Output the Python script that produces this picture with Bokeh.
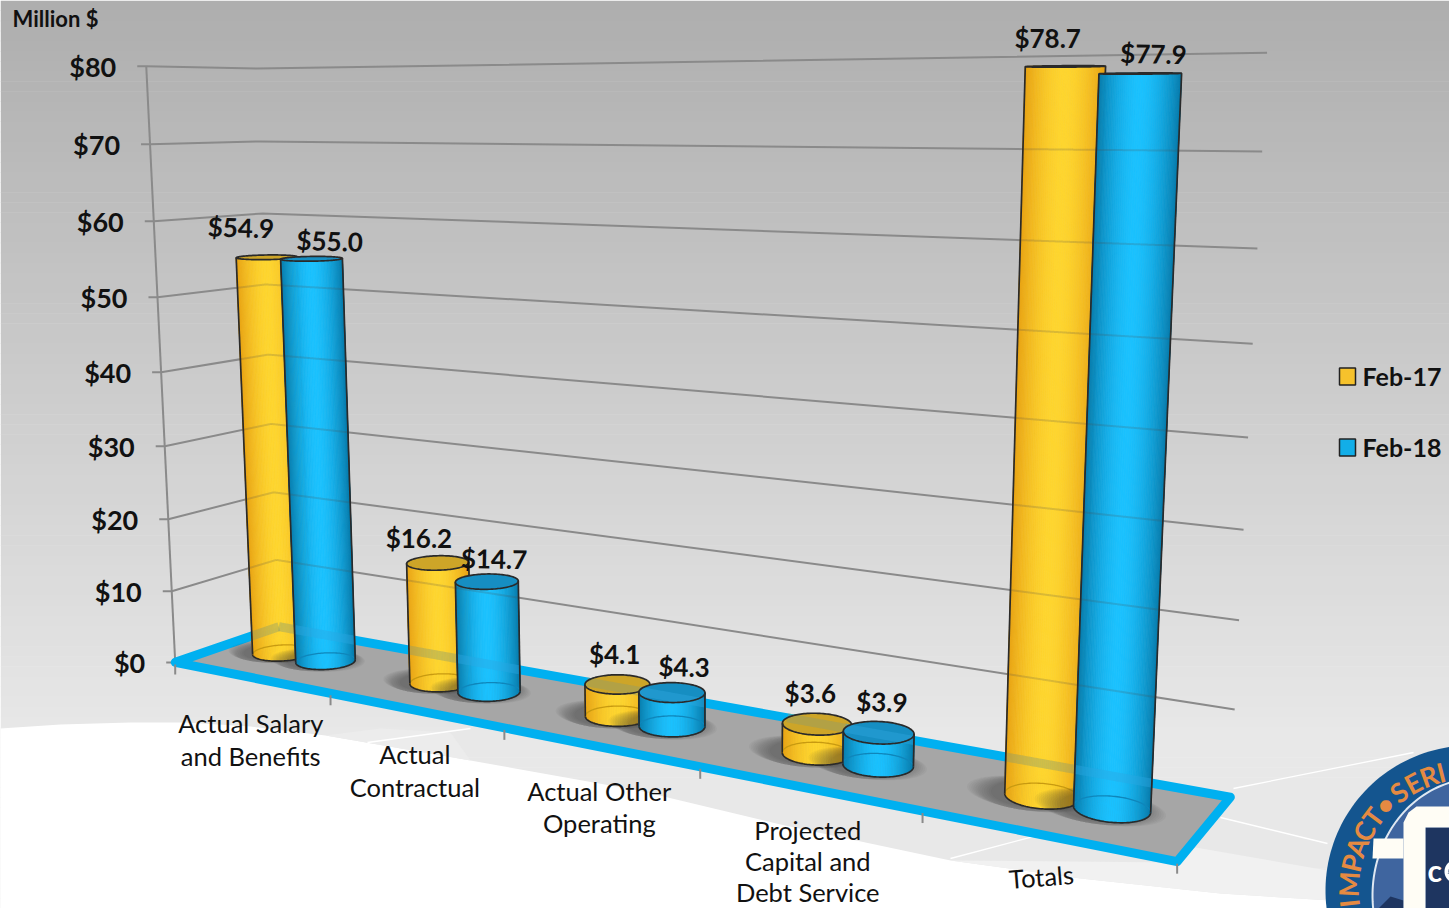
import numpy as np
from bokeh.plotting import figure
from bokeh.embed import file_html
from bokeh.resources import INLINE
from bokeh.core.properties import value

categories = [["Actual Salary", "and Benefits"], ["Actual", "Contractual"],
              ["Actual Other", "Operating"], ["Projected", "Capital and", "Debt Service"], ["Totals"]]
feb17 = [54.9, 16.2, 4.1, 3.6, 78.7]
feb18 = [55.0, 14.7, 4.3, 3.9, 77.9]
feb17_labels = ["$54.9", "$16.2", "$4.1", "$3.6", "$78.7"]
feb18_labels = ["$55.0", "$14.7", "$4.3", "$3.9", "$77.9"]
y_ticks = [0, 10, 20, 30, 40, 50, 60, 70, 80]
y_tick_labels = ["$0", "$10", "$20", "$30", "$40", "$50", "$60", "$70", "$80"]
series_names = ["Feb-17", "Feb-18"]

p = figure(width=1449, height=908, x_range=(0, 1449), y_range=(908, 0),
           output_backend="svg", toolbar_location=None, min_border=0,
           outline_line_color=None)
p.axis.visible = False
p.grid.visible = False
p.background_fill_color = "white"
p.border_fill_color = "white"

# ---- perspective camera calibrated on the frame of the 3-D box
calib = [(0, 0, 0, 175, 660), (1, 0, 0, 1175, 858), (0, 1, 0, 278, 627), (1, 1, 0, 1230, 795),
         (0, 1, 80, 256, 70), (.2, 0, 0, 331, 693), (.4, 0, 0, 505, 729), (.6, 0, 0, 700, 771), (.8, 0, 0, 921, 814),
         (0, 0, 80, 146, 66), (0, 0, 70, 150, 144), (0, 0, 60, 153, 220), (0, 0, 50, 157, 296), (0, 0, 40, 160, 372),
         (0, 0, 30, 164, 445), (0, 0, 20, 168, 517), (0, 0, 10, 171, 590),
         (1, 1, 80, 1267, 52), (1, 1, 70, 1262, 151), (1, 1, 60, 1257, 248), (1, 1, 50, 1252, 343),
         (1, 1, 40, 1248, 437), (1, 1, 30, 1243, 529), (1, 1, 20, 1238, 620), (1, 1, 10, 1235, 708)]
A = []
b = []
for X, Z, V, u, v_ in calib:
    V = V / 80.0
    A.append([X, Z, V, 1, 0, 0, 0, 0, -u * X, -u * Z, -u * V]); b.append(u)
    A.append([0, 0, 0, 0, X, Z, V, 1, -v_ * X, -v_ * Z, -v_ * V]); b.append(v_)
sol = np.linalg.lstsq(np.array(A, float), np.array(b, float), rcond=None)[0]
M = np.append(sol, 1).reshape(3, 4)


def proj(x, z, val):
    x, z, val = np.broadcast_arrays(np.asarray(x, float), np.asarray(z, float), np.asarray(val, float) / 80.0)
    h = np.stack([x, z, val, np.ones_like(x)])
    r = M @ h.reshape(4, -1)
    return (r[0] / r[2]).reshape(x.shape), (r[1] / r[2]).reshape(x.shape)


# ---- background
bands = np.linspace(0, 908, 91)
cols = []
for yy in (bands[:-1] + bands[1:]) / 2:
    t = min(yy / 730.0, 1.0)
    g = int(174 + (232 - 174) * t)
    cols.append("#%02x%02x%02x" % (g, g, g))
p.quad(left=0, right=1449, top=bands[:-1], bottom=bands[1:] + 0.5, fill_color=cols, line_color=None)

sw_x = [0, 60, 130, 185, 250, 325, 470, 638, 780, 950, 1080, 1220, 1330, 1449, 1449, 0]
sw_y = [728, 724, 722, 722, 726, 735, 760, 790, 824, 860, 878, 893, 900, 903, 908, 908]
p.patch(sw_x, sw_y, fill_color="white", line_color=None)
p.patch([950, 1175, 1195, 1327, 1330, 1220, 1080], [860, 862, 847, 870, 900, 893, 878],
        fill_color="#f1f1f1", line_color=None)
p.patch([325, 470, 450, 380], [735, 760, 732, 728], fill_color="#ececec", line_color=None)
for lx, ly in [([1233, 1413], [788, 752]), ([1220, 1327], [817, 843]), ([950, 1037], [858, 835]), ([367, 470], [742, 728])]:
    p.line(lx, ly, line_color="white", line_width=1.3)

# ---- grid: left wall + back wall
GRID = "#8a8a8a"
see_through = []  # (xs, ys, colour, width, alpha) drawn faintly across the cylinders
for t in y_ticks:
    xs, ys = proj([0, 0, 1], [0, 1, 1], [t, t, t])
    p.line([xs[0] - 9] + list(xs), [ys[0]] + list(ys), line_color=GRID, line_width=2)
    if t > 0:
        see_through.append((xs[:2], ys[:2], "#505050", 2, 0.2))
        see_through.append((xs[1:], ys[1:], "#505050", 2, 0.2))
xs, ys = proj([0, 0], [0, 0], [0, 80])
p.line(xs, ys, line_color=GRID, line_width=2)

# ---- floor
fx, fy = proj([0, 1, 1, 0], [0, 0, 1, 1], [0, 0, 0, 0])
p.patch(fx, fy, fill_color="#a6a6a6", line_color="#00b0f0", line_width=9, line_join="round")
for i in range(6):
    tx, ty = proj([i / 5], [0], [0])
    p.line([tx[0], tx[0]], [ty[0] + 2, ty[0] + 12], line_color=GRID, line_width=2)
bx, by = proj([0, 0, 1], [0, 1, 1], [0, 0, 0])
see_through.append((bx[:2], by[:2], None, 9, 0.4))
see_through.append((bx[1:], by[1:], None, 9, 0.4))

CAT_W = 0.2
R_X, R_Z = 0.0295, 0.19
OFF = 0.0285
Z0 = 0.52
SHIFT = -0.002
styles = [dict(mid=(255, 214, 48), edge=(232, 162, 20), top=(205, 165, 40), base="#c89a10", through="#8a9a70"),
          dict(mid=(28, 194, 255), edge=(8, 124, 172), top=(22, 142, 194), base="#0f86bb", through="#30a8e0")]
ANG = np.linspace(0, 2 * np.pi, 121)


def hexc(c):
    return "#%02x%02x%02x" % tuple(int(k) for k in c)


def inside(px, py, vx, vy):
    vx = np.asarray(vx); vy = np.asarray(vy)
    vx2 = np.roll(vx, -1); vy2 = np.roll(vy, -1)
    res = np.zeros_like(px, dtype=bool)
    for a, b_, c, d in zip(vx, vy, vx2, vy2):
        if b_ == d:
            continue
        cond = ((b_ > py) != (d > py)) & (px < a + (py - b_) * (c - a) / (d - b_))
        res ^= cond
    return res


def cyl(cx, val, st):
    # soft floor shadow
    for k in np.linspace(1.75, 1.05, 12):
        sx, sy = proj(cx - 0.010 + R_X * k * np.cos(ANG), Z0 + R_Z * min(k, 1.3) * np.sin(ANG), 0)
        p.patch(sx, sy, fill_color="#303030", fill_alpha=0.045, line_color=None)
    xb, yb = proj(cx + R_X * np.cos(ANG), Z0 + R_Z * np.sin(ANG), 0)
    xt, yt = proj(cx + R_X * np.cos(ANG), Z0 + R_Z * np.sin(ANG), val)
    xm = (xb + xt) / 2
    il, ir = int(np.argmin(xm)), int(np.argmax(xm))
    n = len(ANG) - 1
    path = [il]
    j = il
    step = -1 if yb[(il - 1) % n] > yb[(il + 1) % n] else 1
    while j != ir:
        j = (j + step) % n
        path.append(j)
    back = [(ir + k * step) % n for k in range(n - len(path) + 2)]
    qx, qy, qc = [], [], []
    denom = (xm[ir] - xm[il])
    for a_, b_ in zip(path[:-1], path[1:]):
        t = ((xm[a_] + xm[b_]) / 2 - xm[il]) / denom
        s = 1 - abs(2 * t - 1) ** 1.7
        c = np.array(st["edge"]) + (np.array(st["mid"]) - np.array(st["edge"])) * s
        qx.append([xb[a_], xb[b_], xt[b_], xt[a_]])
        qy.append([yb[a_], yb[b_], yt[b_], yt[a_]])
        qc.append(hexc(c))
    p.patches(qx, qy, fill_color=qc, line_color=qc, line_width=0.8)
    p.line(xb[back], yb[back], line_color=st["base"], line_width=1.3)
    p.patch(xt, yt, fill_color=hexc(st["top"]), line_color=None)
    # the walls and floor edge that show faintly through the cylinder
    sil_x = list(xb[path]) + list(xt[back])
    sil_y = list(yb[path]) + list(yt[back])
    for lx, ly, col, w, al in see_through:
        tt = np.linspace(0, 1, 1500)
        sx = lx[0] + (lx[1] - lx[0]) * tt
        sy = ly[0] + (ly[1] - ly[0]) * tt
        m = inside(sx, sy, sil_x, sil_y)
        if m.sum() > 1:
            p.line(sx[m], sy[m], line_color=col or st["through"], line_width=w, line_alpha=al, line_cap="butt")
    p.line(xb[path], yb[path], line_color="#2a2a2a", line_width=1.7)
    p.line([xb[il], xt[il]], [yb[il], yt[il]], line_color="#2a2a2a", line_width=1.7)
    p.line([xb[ir], xt[ir]], [yb[ir], yt[ir]], line_color="#2a2a2a", line_width=1.7)
    p.patch(xt, yt, fill_color=None, line_color="#2a2a2a", line_width=1.7)
    return xt.mean(), yt.mean()


label_offsets = [[(-26, -30), (-19, -25), (-3, -30), (-7, -31), (-18, -28)],
                 [(18, -18), (7, -23), (12, -26), (3, -31), (13, -20)]]
label_tilt = [[-0.03, 0, 0, 0, 0], [-0.03, -0.02, -0.02, -0.03, -0.02]]
tops = []
for i in range(5):
    c = (i + 0.5) * CAT_W + SHIFT
    tops.append(cyl(c - OFF, feb17[i], styles[0]) + (feb17_labels[i], label_offsets[0][i], label_tilt[0][i]))
    tops.append(cyl(c + OFF, feb18[i], styles[1]) + (feb18_labels[i], label_offsets[1][i], label_tilt[1][i]))

FONT = value("Lato")
for x0, y0, s, off, tilt in tops:
    p.text([x0 + off[0]], [y0 + off[1]], text=[s], text_font=FONT, text_font_style="bold", angle=tilt,
           text_font_size="26px", text_color="#111111", text_align="center", text_baseline="middle")

# ---- value axis labels
for t, s in zip(y_ticks, y_tick_labels):
    x0, y0 = proj([0], [0], [t])
    p.text([x0[0] - 30], [y0[0]], text=[s], text_font=FONT, text_font_style="bold", text_font_size="27px",
           text_color="#111111", text_align="right", text_baseline="middle")
p.text([12], [18], text=["Million $"], text_font=FONT, text_font_style="bold", text_font_size="22px",
       text_color="#111111", text_align="left", text_baseline="middle")

# ---- category labels
cat_pos_dy = [46, 44, 44, 42, 41]
cat_pos_dx = [0, 0, 0, 0, -4]
cat_line = [32.5, 32.5, 32.5, 31, 32.5]
rot = [0, 0, 0, 0, 0.08]
for i, lines in enumerate(categories):
    x0, y0 = proj([(i + 0.5) * CAT_W], [0], [0])
    x0 = x0[0] + cat_pos_dx[i]
    for k, s in enumerate(lines):
        p.text([x0], [y0[0] + cat_pos_dy[i] + k * cat_line[i]], text=[s], text_font=FONT, text_font_size="25.5px",
               text_color="#111111", text_align="center", text_baseline="middle", angle=rot[i])

# ---- legend
swatch = ["#f6c22c", "#12aee8"]
for y0, s, c in zip([376, 447], series_names, swatch):
    p.rect([1347], [y0], width=16, height=17, fill_color=c, line_color="#222222", line_width=1.5)
    p.text([1362], [y0 - 1], text=[s], text_font=FONT, text_font_style="bold", text_font_size="25px",
           text_color="#111111", text_align="left", text_baseline="middle")

# ---- logo
LC = (1470, 890)
th = np.linspace(0, 2 * np.pi, 180)
p.patch(LC[0] + 145 * np.cos(th), LC[1] + 145 * np.sin(th), fill_color="#14558f", line_color=None)
disc_x = 1477 + 105 * np.cos(th)
disc_y = 895 + 117 * np.sin(th)
p.patch(disc_x, disc_y, fill_color="#3f659f", line_color="#dfe8f2", line_width=2)
p.patch([1425, 1449, 1449, 1425], [827, 827, 908, 908], fill_color="#1e3560", line_color=None)
p.patch([1378, 1390, 1403, 1403], [908, 896, 900, 908], fill_color="#1e3560", line_color=None)
p.patch([1403, 1403, 1408, 1416, 1449, 1449, 1425, 1425, 1403],
        [908, 822, 812, 806, 806, 827, 827, 908, 908], fill_color="#fffdf5", line_color=None)
p.patch([1373, 1403, 1403, 1372], [838, 838, 858, 858], fill_color="#fffdf5", line_color=None)
p.text([1427], [869], text=["c"], text_font=FONT, text_font_style="bold", text_font_size="30px",
       text_color="white", text_align="left", text_baseline="middle")
oa = np.linspace(np.pi * 0.62, np.pi * 1.38, 30)
p.line(1454 + 8 * np.cos(oa), 871 + 9 * np.sin(oa), line_color="white", line_width=4)
ring_letters = ["I", "M", "P", "A", "C", "T", "•", "S", "E", "R", "I"]
ring_angles = [186, 177, 167, 159, 151, 143, 135, 126, 118, 110, 104]
for ch, a in zip(ring_letters, ring_angles):
    r = np.deg2rad(a)
    p.text([LC[0] + 122 * np.cos(r)], [LC[1] - 122 * np.sin(r)], text=[ch], text_font=FONT, text_font_style="bold",
           text_font_size="27px", text_color="#e58a42", text_align="center", text_baseline="middle",
           angle=r - np.pi / 2)

open("out.html", "w").write(file_html(p, INLINE))
